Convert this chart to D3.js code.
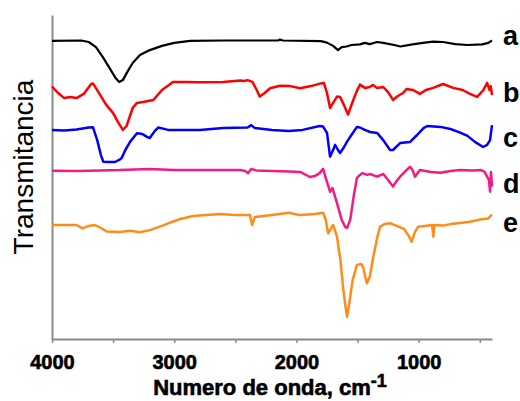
<!DOCTYPE html>
<html>
<head>
<meta charset="utf-8">
<script src="https://cdn.jsdelivr.net/npm/d3@7"></script>
<style>
  body { margin: 0; background: #fff; }
  svg { display: block; font-family: "Liberation Sans", Arial, sans-serif; }
</style>
</head>
<body>
<div id="my_dataviz"></div>
<script>
// spectra: [wavenumber cm-1, transmittance (arb. units, offset per sample)]
var specA = [[4000,99.4],[3760,99.5],[3700,99.0],[3640,97.3],[3580,93.7],[3520,89.7],[3480,87.0],[3450,85.7],[3420,86.3],[3380,89.3],[3340,92.0],[3280,94.7],[3200,96.3],[3100,97.7],[3000,98.7],[2870,99.4],[2600,99.5],[2150,99.5],[2135,99.8],[2110,99.5],[1800,99.3],[1750,98.8],[1700,97.7],[1660,96.3],[1630,97.3],[1590,97.5],[1550,98.0],[1480,98.2],[1440,98.7],[1400,98.3],[1340,99.0],[1290,98.7],[1200,98.0],[1150,97.5],[1050,98.2],[950,98.8],[880,99.1],[800,99.0],[700,98.3],[600,98.0],[480,98.2],[430,98.7],[400,99.5]];
var specB = [[4000,84.1],[3950,82.0],[3900,80.3],[3850,80.7],[3800,80.3],[3740,81.7],[3680,85.0],[3665,85.2],[3620,82.3],[3560,78.3],[3500,75.3],[3460,72.3],[3420,69.7],[3390,71.0],[3340,77.0],[3305,78.7],[3255,79.0],[3170,79.7],[3100,83.0],[3010,85.7],[2900,85.7],[2790,85.6],[2600,85.7],[2460,86.2],[2430,86.0],[2400,86.3],[2360,85.7],[2325,83.0],[2300,80.8],[2260,82.0],[2216,83.6],[2134,84.4],[2050,84.3],[1970,83.6],[1880,84.3],[1800,85.2],[1775,85.3],[1750,82.0],[1725,77.0],[1700,78.7],[1668,80.8],[1643,80.7],[1615,78.3],[1578,74.8],[1550,78.0],[1510,82.3],[1480,84.8],[1440,83.7],[1400,84.0],[1373,84.7],[1340,83.7],[1290,84.0],[1250,82.3],[1210,79.7],[1170,81.0],[1128,82.0],[1100,83.3],[1046,83.0],[990,81.7],[940,83.0],[882,83.7],[800,85.0],[718,83.7],[640,83.0],[580,81.7],[522,80.7],[470,83.0],[440,85.4],[420,83.0],[410,84.3],[400,81.3]];
var specC = [[4000,69.7],[3900,69.5],[3800,69.8],[3700,70.5],[3665,70.6],[3630,66.3],[3600,61.3],[3580,59.1],[3530,59.0],[3485,59.0],[3450,59.7],[3430,60.3],[3400,63.0],[3360,65.8],[3305,68.6],[3260,68.3],[3220,67.3],[3200,67.0],[3160,69.3],[3130,70.5],[3050,69.7],[2900,69.7],[2790,69.7],[2600,70.3],[2400,70.5],[2370,71.3],[2340,70.3],[2200,69.7],[2063,69.3],[1950,69.7],[1810,71.0],[1782,70.8],[1750,68.7],[1725,60.8],[1700,63.0],[1684,64.7],[1660,63.0],[1643,62.0],[1610,64.0],[1586,65.8],[1550,68.0],[1505,70.7],[1480,70.5],[1440,69.7],[1398,69.0],[1340,68.7],[1290,66.3],[1234,63.0],[1210,63.0],[1152,65.3],[1070,65.7],[1013,68.0],[960,70.3],[930,71.0],[822,70.7],[740,70.0],[660,68.8],[600,67.7],[540,65.7],[473,64.0],[440,64.7],[416,66.3],[400,71.3]];
var specD = [[4000,56.1],[3800,56.0],[3600,56.2],[3450,56.3],[3200,56.7],[3000,56.3],[2800,56.3],[2460,56.3],[2420,56.0],[2395,55.3],[2370,56.7],[2330,56.2],[2200,56.0],[2063,55.8],[1970,55.7],[1890,54.0],[1850,54.3],[1810,55.3],[1782,56.7],[1750,52.4],[1725,49.1],[1705,50.3],[1668,45.3],[1630,39.7],[1600,37.3],[1586,37.0],[1560,39.7],[1530,48.0],[1505,53.7],[1480,54.7],[1460,55.3],[1420,54.7],[1398,55.0],[1340,54.1],[1290,55.0],[1250,53.0],[1210,50.8],[1180,52.7],[1152,54.1],[1100,56.3],[1070,57.4],[1050,56.3],[1030,54.1],[990,56.3],[900,55.7],[822,55.4],[740,56.0],[660,56.3],[560,56.2],[490,56.3],[460,55.7],[440,54.1],[425,53.0],[416,49.1],[408,55.7],[400,50.8]];
var specE = [[4000,38.0],[3800,38.0],[3750,36.9],[3700,37.7],[3648,38.0],[3600,37.0],[3550,35.8],[3443,35.7],[3362,36.1],[3280,35.6],[3200,36.3],[3100,37.7],[3035,38.8],[2950,40.0],[2846,41.0],[2625,41.7],[2500,41.3],[2380,41.3],[2363,38.0],[2340,40.7],[2200,41.3],[2063,42.1],[1970,41.3],[1850,41.7],[1782,42.1],[1760,39.7],[1741,35.2],[1700,38.0],[1668,34.1],[1640,26.3],[1619,17.4],[1600,11.3],[1586,7.4],[1570,11.3],[1540,19.7],[1505,24.7],[1470,25.0],[1455,24.0],[1424,18.6],[1400,20.7],[1373,27.0],[1340,33.7],[1316,37.4],[1280,38.3],[1234,38.6],[1180,37.7],[1120,36.7],[1080,34.3],[1058,32.4],[1030,35.7],[1005,37.4],[950,37.7],[890,38.0],[880,34.1],[872,38.0],[800,37.8],[740,38.3],[660,38.7],[580,39.1],[500,39.8],[430,40.2],[400,41.5]];

var sampleNames = ["a", "b", "c", "d", "e"];
var sampleColors = ["#000000", "#ff0000", "#0000ff", "#f21b82", "#ff8c1a"];
var labelLevels = [101.2, 82.2, 67.2, 51.8, 38.8];
var xTickValues = [4000, 3500, 3000, 2500, 2000, 1500, 1000, 500];
var xTickLabels = ["4000", "", "3000", "", "2000", "", "1000", ""];

var spectra = [specA, specB, specC, specD, specE];

var margin = {top: 15, right: 28, bottom: 62, left: 52},
    width = 520 - margin.left - margin.right,
    height = 401 - margin.top - margin.bottom;

var svg = d3.select("#my_dataviz")
  .append("svg")
    .attr("width", 520)
    .attr("height", 401)
  .append("g")
    .attr("transform", "translate(" + margin.left + "," + margin.top + ")");

var x = d3.scaleLinear()
  .domain([4000, 400])
  .range([0, width]);

var y = d3.scaleLinear()
  .domain([0, 108])
  .range([height, 0]);

// x axis
var xAxis = svg.append("g")
  .attr("transform", "translate(0," + height + ")")
  .call(d3.axisBottom(x)
    .tickValues(xTickValues)
    .tickSize(4)
    .tickSizeOuter(0)
    .tickFormat(function(d, i) { return xTickLabels[i]; }));
xAxis.select(".domain").attr("stroke", "#8a8a8a").attr("stroke-width", 2);
xAxis.selectAll(".tick line").attr("stroke", "#8a8a8a").attr("stroke-width", 1.5);
xAxis.selectAll(".tick text")
  .attr("dy", "1.15em")
  .style("font-size", "20px")
  .style("font-weight", "bold")
  .attr("fill", "#000")
  .attr("stroke", "#000")
  .attr("stroke-width", 0.6);

// y axis, no ticks
var yAxis = svg.append("g")
  .call(d3.axisLeft(y).ticks(0).tickSizeOuter(0));
yAxis.select(".domain").attr("stroke", "#8a8a8a").attr("stroke-width", 2);

// spectra
var line = d3.line()
  .x(function(d) { return x(d[0]); })
  .y(function(d) { return y(d[1]); });

svg.selectAll(".spec")
  .data(spectra)
  .enter()
  .append("path")
    .attr("class", "spec")
    .attr("fill", "none")
    .attr("stroke", function(d, i) { return sampleColors[i]; })
    .attr("stroke-width", function(d, i) { return i == 0 ? 2.2 : 2.5; })
    .attr("stroke-linejoin", "round")
    .attr("d", line);

// sample labels at right end
svg.selectAll(".lab")
  .data(labelLevels)
  .enter()
  .append("text")
    .attr("class", "lab")
    .attr("x", width + 11)
    .attr("y", function(d) { return y(d); })
    .attr("dy", "0.35em")
    .style("font-size", "27px")
    .style("font-weight", "bold")
    .text(function(d, i) { return sampleNames[i]; });

// x axis title
var xt = svg.append("text")
  .attr("x", width / 2 - 2)
  .attr("y", height + 56)
  .attr("text-anchor", "middle")
  .attr("stroke", "#000")
  .attr("stroke-width", 0.6)
  .style("font-size", "22px")
  .style("font-weight", "bold");
xt.append("tspan").text("Numero de onda, cm");
xt.append("tspan").attr("dy", "-0.45em").style("font-size", "18px").text("-1");

// y axis title
svg.append("text")
  .attr("transform", "rotate(-90)")
  .attr("x", -(height / 2) + 10)
  .attr("y", -19)
  .attr("text-anchor", "middle")
  .style("font-size", "28px")
  .text("Transmitancia");
</script>
</body>
</html>
